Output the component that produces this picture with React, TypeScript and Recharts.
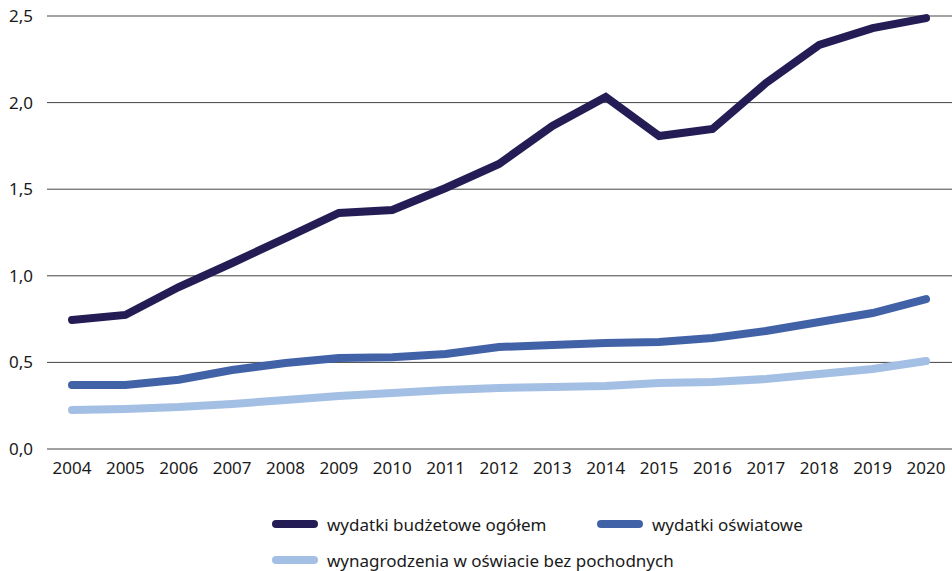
import React from "react";
import { LineChart, Line, XAxis, YAxis, CartesianGrid } from "recharts";

const years = ["2004","2005","2006","2007","2008","2009","2010","2011","2012","2013","2014","2015","2016","2017","2018","2019","2020"];
const budzetOgolem = [0.745,0.774,0.935,1.074,1.218,1.363,1.38,1.507,1.646,1.865,2.032,1.807,1.848,2.113,2.333,2.43,2.488];
const oswiatowe = [0.37,0.37,0.40,0.456,0.497,0.525,0.53,0.548,0.589,0.60,0.612,0.618,0.641,0.681,0.733,0.785,0.866];
const wynagrodzenia = [0.225,0.231,0.242,0.26,0.283,0.306,0.323,0.34,0.352,0.358,0.364,0.381,0.387,0.404,0.433,0.462,0.508];
const yTicks = [0, 0.5, 1, 1.5, 2, 2.5];

const seriesNames = ["wydatki budżetowe ogółem", "wydatki oświatowe", "wynagrodzenia w oświacie bez pochodnych"];
const colors = ["#241d55", "#4262a8", "#a4bfe4"];

const data = years.map((y, i) => ({
  year: y,
  a: budzetOgolem[i],
  b: oswiatowe[i],
  c: wynagrodzenia[i],
}));

const font = "'Noto Sans', 'Open Sans', sans-serif";

function LegendItem({ color, label }: { color: string; label: string }) {
  return (
    <div style={{ display: "flex", alignItems: "center" }}>
      <div style={{ width: 46, height: 8, borderRadius: 4, background: color, marginRight: 9 }} />
      <span>{label}</span>
    </div>
  );
}

export default function App() {
  return (
    <div style={{ position: "absolute", left: 0, top: 0, width: 952, height: 571, background: "#fff", fontFamily: font }}>
      <LineChart width={952} height={490} data={data} margin={{ top: 16, right: 0, bottom: 0, left: 0 }}>
        <CartesianGrid vertical={false} stroke="#444" strokeWidth={1} />
        <XAxis
          dataKey="year"
          axisLine={false}
          tickLine={false}
          height={41}
          tickMargin={7}
          padding={{ left: 25, right: 26 }}
          tick={{ fill: "#1a1a1a", fontSize: 17, fontFamily: font }}
          interval={0}
        />
        <YAxis
          domain={[0, 2.5]}
          ticks={yTicks}
          width={47}
          axisLine={false}
          tickLine={false}
          tickMargin={8}
          tickFormatter={(v: number) => v.toFixed(1).replace(".", ",")}
          tick={{ fill: "#1a1a1a", fontSize: 17, fontFamily: font }}
        />
        <Line dataKey="c" name={seriesNames[2]} stroke={colors[2]} strokeWidth={8} dot={false} strokeLinecap="round" isAnimationActive={false} />
        <Line dataKey="b" name={seriesNames[1]} stroke={colors[1]} strokeWidth={8} dot={false} strokeLinecap="round" isAnimationActive={false} />
        <Line dataKey="a" name={seriesNames[0]} stroke={colors[0]} strokeWidth={8} dot={false} strokeLinecap="round" isAnimationActive={false} />
      </LineChart>
      <div style={{ position: "absolute", left: 272, top: 512, fontSize: 17, color: "#1a1a1a" }}>
        <div style={{ display: "flex", height: 24, alignItems: "center" }}>
          <div style={{ width: 325 }}>
            <LegendItem color={colors[0]} label={seriesNames[0]} />
          </div>
          <LegendItem color={colors[1]} label={seriesNames[1]} />
        </div>
        <div style={{ display: "flex", height: 24, alignItems: "center", marginTop: 12 }}>
          <LegendItem color={colors[2]} label={seriesNames[2]} />
        </div>
      </div>
    </div>
  );
}
